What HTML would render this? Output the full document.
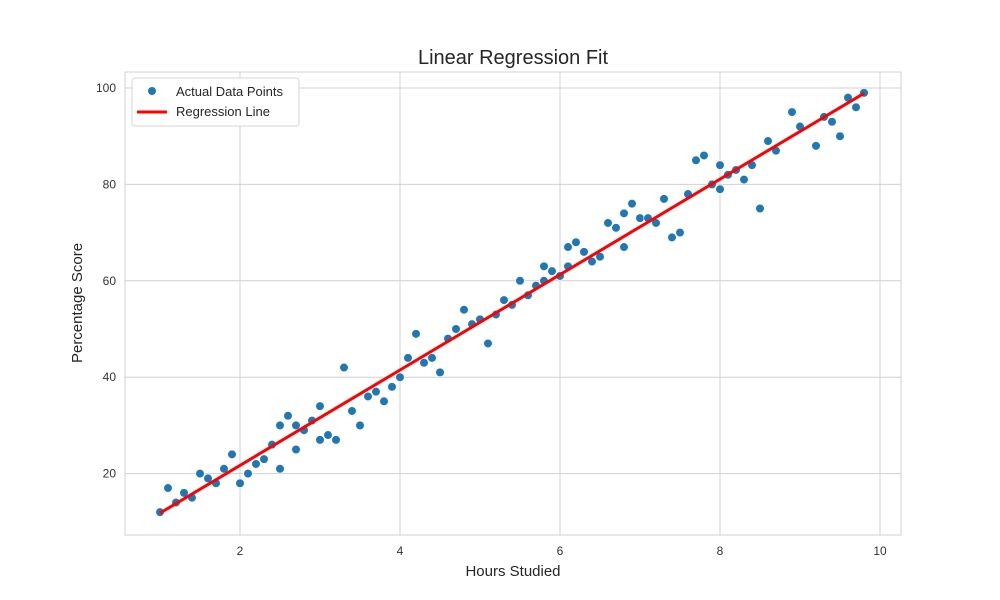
<!DOCTYPE html>
<html><head><meta charset="utf-8"><style>
body{margin:0;background:#fff;}
svg{display:block;font-family:"Liberation Sans",sans-serif;}
</style></head><body>
<svg id="chart" width="1000" height="600">
<rect width="1000" height="600" fill="#fff"/>
<text x="513" y="64" text-anchor="middle" font-size="20" fill="#262626">Linear Regression Fit</text>
<rect x="125" y="72" width="776" height="463" fill="#fff" stroke="#d0d0d0" stroke-width="1"/>
<g id="grid"></g><g id="ticks"></g><g id="marks"></g>
<text x="513" y="576" text-anchor="middle" font-size="15" fill="#262626">Hours Studied</text>
<text x="0" y="0" transform="translate(82,303) rotate(-90)" text-anchor="middle" font-size="15" fill="#262626">Percentage Score</text>
<g>
<rect x="132" y="78" width="167" height="48" rx="3" fill="#fff" stroke="#d6d6d6"/>
<circle cx="152" cy="91" r="4" fill="#1f77b4"/>
<text x="176" y="96" font-size="13" fill="#262626">Actual Data Points</text>
<line x1="137" y1="112" x2="167" y2="112" stroke="red" stroke-width="3"/>
<text x="176" y="116" font-size="13" fill="#262626">Regression Line</text>
</g>
</svg>
<script>
const xs=[1.0,1.1,1.2,1.3,1.4,1.5,1.6,1.7,1.8,1.9,2.0,2.1,2.2,2.3,2.4,2.5,2.5,2.6,2.7,2.7,2.8,2.9,3.0,3.0,3.1,3.2,3.3,3.4,3.5,3.6,3.7,3.8,3.9,4.0,4.1,4.2,4.3,4.4,4.5,4.6,4.7,4.8,4.9,5.0,5.1,5.2,5.3,5.4,5.5,5.6,5.7,5.8,5.8,5.9,6.0,6.1,6.1,6.2,6.3,6.4,6.5,6.6,6.7,6.8,6.8,6.9,7.0,7.1,7.2,7.3,7.4,7.5,7.6,7.7,7.8,7.9,8.0,8.0,8.1,8.2,8.3,8.4,8.5,8.6,8.7,8.9,9.0,9.2,9.3,9.4,9.5,9.6,9.7,9.8];
const ys=[12,17,14,16,15,20,19,18,21,24,18,20,22,23,26,30,21,32,30,25,29,31,34,27,28,27,42,33,30,36,37,35,38,40,44,49,43,44,41,48,50,54,51,52,47,53,56,55,60,57,59,63,60,62,61,67,63,68,66,64,65,72,71,74,67,76,73,73,72,77,69,70,78,85,86,80,84,79,82,83,81,84,75,89,87,95,92,88,94,93,90,98,96,99];
const xTicks=[2,4,6,8,10];
const yTicks=[20,40,60,80,100];
const NS="http://www.w3.org/2000/svg";
const X=v=>80+v*80, Y=v=>570-v*4.82;
function mk(t,a,p){const e=document.createElementNS(NS,t);for(const k in a)e.setAttribute(k,a[k]);p.appendChild(e);return e;}
const grid=document.getElementById('grid'),ticks=document.getElementById('ticks'),marks=document.getElementById('marks');
xTicks.forEach(t=>{
 const l=mk('line',{x1:X(t),x2:X(t),y1:72,y2:535,stroke:'#d0d0d0','stroke-width':1},grid);
 
 
 const tx=mk('text',{x:X(t),y:555,'text-anchor':'middle','font-size':12,fill:'#333'},ticks);tx.textContent=t;
 
 
});
yTicks.forEach(t=>{
 const l=mk('line',{x1:125,x2:901,y1:Y(t),y2:Y(t),stroke:'#d0d0d0','stroke-width':1},grid);
 
 
 const tx=mk('text',{x:116,y:Y(t)+4,'text-anchor':'end','font-size':12,fill:'#333'},ticks);tx.textContent=t;
 
 
});
xs.forEach((x,i)=>{
 const c=mk('circle',{cx:X(x),cy:Y(ys[i]),r:4.3,fill:'#1f77b4',stroke:'#fff','stroke-width':0.6},marks);
 
 
});
const n=xs.length,mx=xs.reduce((a,b)=>a+b)/n,my=ys.reduce((a,b)=>a+b)/n;
let sxy=0,sxx=0;xs.forEach((x,i)=>{sxy+=(x-mx)*(ys[i]-my);sxx+=(x-mx)*(x-mx);});
const m=sxy/sxx,b=my-m*mx,x0=Math.min(...xs),x1=Math.max(...xs);
const rl=mk('line',{x1:X(x0),y1:Y(m*x0+b),x2:X(x1),y2:Y(m*x1+b),stroke:'red','stroke-width':3},marks);


</script>
</body></html>
